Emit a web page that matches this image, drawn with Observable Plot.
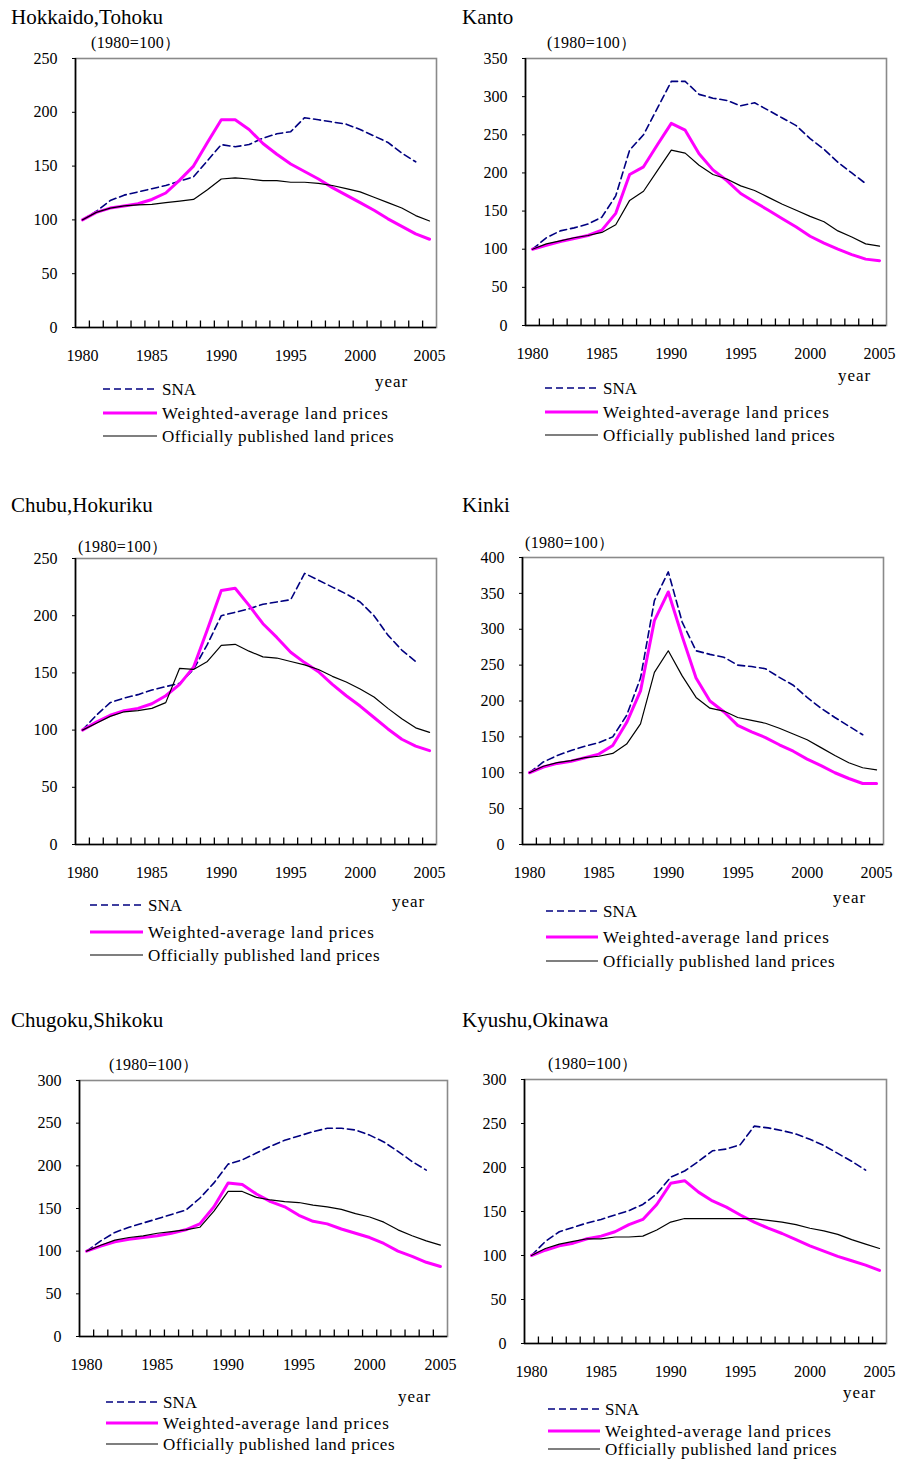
<!DOCTYPE html>
<html><head><meta charset="utf-8">
<script src="https://cdn.jsdelivr.net/npm/d3@7"></script>
<script src="https://cdn.jsdelivr.net/npm/@observablehq/plot@0.6"></script>
<style>
body{margin:0;background:#fff;}
#page{position:relative;width:897px;height:1459px;font-family:"Liberation Serif","Times New Roman",serif;color:#000;overflow:hidden;}
#page svg text{font-family:"Liberation Serif","Times New Roman",serif;}
</style></head><body><div id="page"></div>
<script>
const years = [1980,1981,1982,1983,1984,1985,1986,1987,1988,1989,1990,1991,1992,1993,1994,1995,1996,1997,1998,1999,2000,2001,2002,2003,2004,2005];
const xTickLabels = [1980,1985,1990,1995,2000,2005];
const seriesNames = ["SNA","Weighted-average land prices","Officially published land prices"];
const regionNames = ["Hokkaido,Tohoku","Kanto","Chubu,Hokuriku","Kinki","Chugoku,Shikoku","Kyushu,Okinawa"];
const unitLabel = "(1980=100\uFF09";
const yearLabel = "year";
const yTicks250 = [0,50,100,150,200,250];
const yTicks300 = [0,50,100,150,200,250,300];
const yTicks350 = [0,50,100,150,200,250,300,350];
const yTicks400 = [0,50,100,150,200,250,300,350,400];

// Hokkaido,Tohoku
const hokkaidoSNA = [100,108,118,123,126,129,132,136,140,155,170,168,170,176,180,182,195,193,191,189,184,178,172,162,154];
const hokkaidoWeighted = [100,107,111,113,115,119,125,137,150,172,193,193,184,171,161,152,145,138,130,123,116,109,101,94,87,82];
const hokkaidoOfficial = [100,107,111,113,114,114.5,116,117.5,119,128,138,139,138,136.5,136.5,135,135,134,132,129,126,121,116,111,104,99];
// Kanto
const kantoSNA = [100,115,124,128,133,142,170,230,250,285,320,320,303,298,295,288,292,282,272,262,245,231,214,200,186];
const kantoWeighted = [100,105,110,114,118,125,147,198,208,237,265,256,225,204,190,173,162,151,140,129,117,108,100,93,87,85];
const kantoOfficial = [100,107,111,115,118,122,132,164,176,203,230,226,210,198,192,183,177,168,159,151,143,136,124,116,107,104];
// Chubu,Hokuriku
const chubuSNA = [100,113,124,128,131,135,138,141,153,175,200,203,206,210,212,214,237,231,225,219,212,200,183,170,160];
const chubuWeighted = [100,107,113,117,119,123,130,140,155,188,222,224,209,193,181,168,159,151,140,130,121,111,101,92,86,82];
const chubuOfficial = [100,106,112,116,117,119,124,154,153,160,174,175,169,164,163,160,157,153,147,142,136,129,119,110,102,98];
// Kinki
const kinkiSNA = [100,115,124,131,137,142,150,180,232,340,380,310,270,265,261,250,248,245,233,222,205,190,177,165,153];
const kinkiWeighted = [100,108,113,116,121,126,138,170,214,312,352,290,232,200,185,166,157,149,139,130,119,110,100,92,85,85];
const kinkiOfficial = [100,109,114,117,121,123,127,140,168,240,270,235,205,190,186,177,173,169,162,154,146,135,124,114,107,104];
// Chugoku,Shikoku
const chugokuSNA = [100,112,122,128,133,138,143,148,162,180,202,207,215,223,230,235,240,244,244,242,236,228,217,205,195];
const chugokuWeighted = [100,106,111,114,116,118,121,125,132,152,180,178,167,158,152,142,135,132,126,121,116,109,100,94,87,82];
const chugokuOfficial = [100,107,113,116,118,121,123,125,128,147,170,170,163,160,158,157,154,152,149,144,140,134,125,118,112,107];
// Kyushu,Okinawa
const kyushuSNA = [100,116,127,132,137,141,146,151,158,170,189,196,207,219,221,226,247,245,242,238,232,225,216,207,197];
const kyushuWeighted = [100,106,111,114,119,122,127,135,141,158,182,185,172,162,155,146,138,131,125,118,111,105,99,94,89,83];
const kyushuOfficial = [100,108,113,116,119,119,121,121,122,129,138,142,142,142,142,142,142,140,138,135,131,128,124,118,113,108];

// styles
const FONT = "'Liberation Serif','Times New Roman',serif";
const styleSNA = {stroke:"#000080", strokeWidth:1.6, strokeDasharray:"7,4"};
const styleWeighted = {stroke:"#FF00FF", strokeWidth:3};
const styleOfficial = {stroke:"#000000", strokeWidth:1.2};
const innerTickPx = 7;

// layout (page coordinates)
const panels = [
  {name:regionNames[0], sna:hokkaidoSNA, w:hokkaidoWeighted, o:hokkaidoOfficial, yTicks:yTicks250, xOff:0,
   rect:{l:75,t:58,r:436,b:327}, title:[11,24], unit:[91,48], year:[375,387], leg:{x1:103,x2:157,tx:162,ly:[389,413,436]}},
  {name:regionNames[1], sna:kantoSNA, w:kantoWeighted, o:kantoOfficial, yTicks:yTicks350, xOff:450,
   rect:{l:525,t:58,r:886,b:325}, title:[462,24], unit:[547,48], year:[838,381], leg:{x1:545,x2:598,tx:603,ly:[388,412,435]}},
  {name:regionNames[2], sna:chubuSNA, w:chubuWeighted, o:chubuOfficial, yTicks:yTicks250, xOff:0,
   rect:{l:75,t:558,r:436,b:844}, title:[11,512], unit:[78,552], year:[392,907], leg:{x1:90,x2:143,tx:148,ly:[905,932,955]}},
  {name:regionNames[3], sna:kinkiSNA, w:kinkiWeighted, o:kinkiOfficial, yTicks:yTicks400, xOff:450,
   rect:{l:522,t:557,r:883,b:844}, title:[462,512], unit:[525,548], year:[833,903], leg:{x1:546,x2:598,tx:603,ly:[911,937,961]}},
  {name:regionNames[4], sna:chugokuSNA, w:chugokuWeighted, o:chugokuOfficial, yTicks:yTicks300, xOff:0,
   rect:{l:79,t:1080,r:447,b:1336}, title:[11,1027], unit:[109,1070], year:[398,1402], leg:{x1:106,x2:158,tx:163,ly:[1402,1423,1444]}},
  {name:regionNames[5], sna:kyushuSNA, w:kyushuWeighted, o:kyushuOfficial, yTicks:yTicks300, xOff:450,
   rect:{l:524,t:1079,r:886,b:1343}, title:[462,1027], unit:[548,1069], year:[843,1398], leg:{x1:548,x2:600,tx:605,ly:[1409,1431,1449]}}
];

const page = document.getElementById("page");
const bounds = [1980.5,1981.5,1982.5,1983.5,1984.5,1985.5,1986.5,1987.5,1988.5,1989.5,1990.5,1991.5,1992.5,1993.5,1994.5,1995.5,1996.5,1997.5,1998.5,1999.5,2000.5,2001.5,2002.5,2003.5,2004.5];

function rows(arr) {
  return arr.map((v, i) => ({year: years[i], value: v}));
}

for (const p of panels) {
  const mt = 12, mb = 48, mr = 30;
  const ml = p.rect.l - p.xOff;
  const width = p.rect.r - p.xOff + mr;
  const innerH = p.rect.b - p.rect.t;
  const height = innerH + mt + mb;
  const yMax = p.yTicks[p.yTicks.length - 1];
  const tickTop = yMax * innerTickPx / innerH; // px expressed in y units
  const tickRows = bounds.map(b => ({x: b, y1: 0, y2: tickTop}));
  const chart = Plot.plot({
    width, height, marginLeft: ml, marginTop: mt, marginRight: mr, marginBottom: mb,
    style: `font-family:${FONT};font-size:16px;background:transparent;color:#000;overflow:visible;`,
    x: {domain: [years[0] - 0.5, years[years.length - 1] + 0.5], label: null},
    y: {domain: [0, yMax], label: null},
    marks: [
      Plot.frame({stroke: "#8a8a8a", strokeWidth: 1.6}),
      Plot.axisY(p.yTicks, {tickSize: 3, tickPadding: 15, label: null, fontSize: 16, fontFamily: FONT, fill: "#000"}),
      Plot.axisX(xTickLabels, {tickSize: 0, tickPadding: 22, label: null, fontSize: 16, fontFamily: FONT, fill: "#000", tickFormat: d => String(d)}),
      Plot.link(tickRows, {x1: "x", x2: "x", y1: "y1", y2: "y2", stroke: "#000", strokeWidth: 1.3}),
      Plot.ruleX([years[0] - 0.5], {stroke: "#000", strokeWidth: 1.6}),
      Plot.ruleY([0], {stroke: "#000", strokeWidth: 1.6}),
      Plot.lineY(rows(p.sna), {x: "year", y: "value", ...styleSNA}),
      Plot.lineY(rows(p.w), {x: "year", y: "value", ...styleWeighted}),
      Plot.lineY(rows(p.o), {x: "year", y: "value", ...styleOfficial})
    ]
  });
  chart.style.position = "absolute";
  chart.style.left = p.xOff + "px";
  chart.style.top = (p.rect.t - mt) + "px";
  page.appendChild(chart);
}

// overlay for titles, units, year labels, legends
const overlay = d3.select(page).append("svg")
  .attr("width", 897).attr("height", 1459)
  .style("position", "absolute").style("left", "0px").style("top", "0px")
  .style("font-family", FONT)
  .style("pointer-events", "none");

const legendStyles = [styleSNA, styleWeighted, styleOfficial];
for (const p of panels) {
  overlay.append("text").attr("x", p.title[0]).attr("y", p.title[1]).attr("font-size", 21).text(p.name);
  overlay.append("text").attr("x", p.unit[0]).attr("y", p.unit[1]).attr("font-size", 16).attr("letter-spacing", 0.3).text(unitLabel);
  overlay.append("text").attr("x", p.year[0]).attr("y", p.year[1]).attr("font-size", 17).attr("letter-spacing", 1).text(yearLabel);
  seriesNames.forEach((name, i) => {
    const s = legendStyles[i];
    const ly = p.leg.ly[i];
    overlay.append("line").attr("x1", p.leg.x1).attr("x2", p.leg.x2).attr("y1", ly).attr("y2", ly)
      .attr("stroke", s.stroke).attr("stroke-width", s.strokeWidth).attr("stroke-dasharray", s.strokeDasharray || null);
    overlay.append("text").attr("x", p.leg.tx).attr("y", ly + 6).attr("font-size", 17)
      .attr("letter-spacing", i === 0 ? 0 : (i === 1 ? 0.9 : 0.55)).text(name);
  });
}
</script></body></html>
